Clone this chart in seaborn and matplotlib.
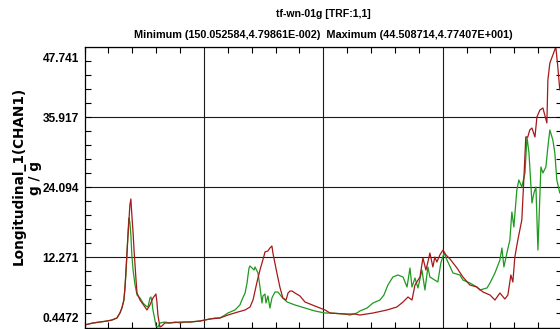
import numpy as np
import pandas as pd
import matplotlib
matplotlib.use("Agg")
import matplotlib.pyplot as plt
import matplotlib.transforms as mtrans
from matplotlib.ticker import MultipleLocator, FixedLocator
import seaborn as sns

sns.set_theme(style="white")
plt.rcParams["font.family"] = ["Liberation Sans Narrow", "Liberation Sans", "DejaVu Sans"]

title = "tf-wn-01g [TRF:1,1]"
subtitle = "Minimum (150.052584,4.79861E-002)  Maximum (44.508714,4.77407E+001)"
ylabel_line1 = "Longitudinal_1(CHAN1)"
ylabel_line2 = "g / g"
ytick_values = [0.4472, 12.271, 24.094, 35.917, 47.741]
ytick_labels = ["0.4472", "12.271", "24.094", "35.917", "47.741"]
x_limits = [0, 240]
x_grid = [60, 120, 180]

freq_green = [0, 4.3, 7.8, 11.3, 13.8, 16.3, 17.8, 18.8, 19.8, 20.3, 20.8, 21.3, 21.8, 22.3, 22.8,
              23.3, 23.8, 24.4, 25.4, 26.4, 27.9, 29.4, 30.9, 31.9, 32.9, 33.4, 33.9, 34.4, 35.4,
              35.9, 36.9, 37.9, 40.4, 42.9, 45.5, 48.0, 50.5, 53.0, 58.0, 60.5, 63.0, 65.6, 68.1,
              70.6, 72.1, 75.6, 78.1, 79.1, 80.7, 81.7, 82.2, 82.7, 83.2, 84.2, 85.2, 85.7, 87.2,
              88.2, 89.2, 89.7, 90.7, 91.2, 92.2, 93.2, 94.2, 95.7, 97.2, 99.2, 101.8, 105.8, 110.8,
              115.8, 120.9, 123.4, 130.9, 133.4, 136.9, 138.4, 142.0, 145.0, 148.5, 150.5, 152.5,
              155.0, 157.5, 160.1, 162.1, 163.6, 164.6, 166.1, 167.6, 169.6, 171.1, 172.6, 173.6,
              177.6, 179.1, 180.7, 182.2, 185.2, 188.7, 190.2, 193.7, 197.2, 198.7, 202.3, 203.8,
              206.3, 208.8, 209.8, 210.8, 212.3, 213.8, 214.8, 215.8, 217.3, 218.3, 219.8, 221.4,
              222.4, 223.4, 224.9, 225.9, 226.9, 227.9, 229.4, 230.4, 231.9, 232.9, 233.9, 235.4,
              236.4, 237.4, 238.9]
resp_green = [0.87, 1.21, 1.37, 1.54, 1.71, 2.05, 2.89, 3.73, 5.08, 6.77, 9.30, 12.67, 16.07, 18.91,
              18.23, 16.07, 12.67, 10.14, 7.61, 5.93, 5.42, 4.58, 4.07, 3.90, 5.42, 5.59, 4.75, 3.40,
              1.71, 0.70, 0.53, 1.21, 1.37, 1.21, 1.37, 1.21, 1.37, 1.37, 1.54, 1.71, 1.88, 2.05,
              2.05, 2.55, 2.89, 3.40, 4.24, 5.08, 6.26, 7.95, 9.30, 10.48, 10.82, 10.48, 10.14,
              10.65, 9.64, 7.27, 4.58, 5.76, 6.09, 4.58, 5.76, 3.73, 5.42, 6.43, 6.43, 5.59, 4.75,
              4.24, 3.73, 3.23, 2.89, 2.89, 2.72, 2.55, 2.89, 3.23, 3.73, 4.58, 5.08, 5.93, 7.61,
              8.96, 9.30, 8.96, 7.27, 10.48, 7.27, 8.79, 7.11, 10.14, 6.77, 10.65, 8.96, 8.12,
              11.32, 13.01, 11.83, 9.64, 9.30, 8.45, 7.95, 7.27, 6.77, 7.11, 7.95, 9.64, 11.83,
              13.85, 10.65, 13.01, 15.20, 19.92, 17.39, 23.63, 25.32, 24.14, 26.50, 32.57, 29.87,
              21.44, 23.12, 24.14, 13.51, 27.51, 26.50, 27.51, 30.88, 33.75, 32.06, 29.87, 25.32,
              23.12]

freq_red = [0, 4.3, 7.8, 11.3, 13.8, 16.3, 17.8, 18.8, 19.8, 20.3, 20.8, 21.3, 21.8, 22.3, 22.8,
            23.3, 23.8, 24.4, 24.9, 25.4, 25.9, 26.4, 27.9, 30.4, 31.4, 32.9, 34.4, 35.9, 36.4,
            36.9, 37.9, 38.9, 40.4, 42.9, 48.0, 53.0, 58.0, 63.0, 68.1, 72.1, 77.1, 80.7, 83.2,
            84.7, 86.7, 88.2, 89.2, 90.2, 90.7, 92.2, 93.2, 94.2, 94.7, 95.7, 96.7, 98.2, 99.7,
            101.3, 102.3, 103.3, 104.3, 105.8, 108.3, 110.8, 115.8, 120.9, 123.4, 130.9, 135.9,
            138.4, 145.0, 152.0, 157.0, 160.1, 162.6, 164.6, 166.1, 168.6, 170.1, 171.6, 172.6,
            173.6, 175.1, 176.1, 177.1, 178.6, 180.2, 181.7, 183.7, 187.2, 190.2, 193.7, 197.2,
            200.3, 203.8, 206.3, 208.8, 211.3, 212.8, 214.3, 215.3, 216.3, 217.8, 219.8, 220.8,
            221.8, 222.8, 223.8, 224.9, 226.4, 227.4, 228.9, 230.4, 232.4, 232.9, 233.9, 235.4,
            236.9, 237.9, 238.9]
resp_red = [0.87, 1.21, 1.37, 1.54, 1.71, 2.05, 2.89, 3.73, 5.08, 7.11, 9.80, 12.67, 15.54, 18.23,
            21.10, 22.11, 19.41, 16.55, 13.51, 10.98, 8.45, 6.26, 5.08, 3.90, 3.40, 4.24, 5.42,
            6.09, 4.75, 2.55, 0.53, 0.70, 1.21, 1.21, 1.37, 1.37, 1.54, 1.88, 2.05, 2.55, 3.06,
            3.40, 3.90, 5.08, 8.12, 10.14, 11.32, 12.50, 13.18, 13.35, 13.85, 14.19, 13.01, 11.32,
            9.64, 7.27, 5.42, 5.08, 6.26, 6.60, 6.60, 6.26, 5.76, 4.75, 4.07, 3.40, 2.89, 2.72,
            2.72, 2.55, 2.89, 3.40, 3.90, 4.75, 5.59, 5.08, 7.61, 8.96, 12.17, 10.14, 11.49,
            13.01, 10.65, 12.33, 11.49, 12.67, 13.51, 12.67, 12.00, 10.48, 8.96, 7.61, 7.27, 6.43,
            5.93, 5.08, 6.26, 5.25, 5.93, 9.30, 8.12, 12.33, 15.20, 18.57, 25.32, 32.57, 32.57,
            33.75, 34.08, 32.57, 35.94, 37.12, 37.46, 34.93, 42.18, 45.04, 46.39, 47.74, 44.37,
            40.49]

green_df = pd.DataFrame({"freq": freq_green, "resp": resp_green})
red_df = pd.DataFrame({"freq": freq_red, "resp": resp_red})

W, H = 560, 329
fig = plt.figure(figsize=(W / 100, H / 100), dpi=100)
fig.patch.set_facecolor("white")
ax = fig.add_axes([84.5 / W, 1.5 / H, 477.5 / W, 280.5 / H])
ax.set_facecolor("white")

sns.lineplot(data=green_df, x="freq", y="resp", ax=ax, color="#1e9a1e",
             lw=0.9, estimator=None, sort=False)
sns.lineplot(data=red_df, x="freq", y="resp", ax=ax, color="#a31a1a",
             lw=0.9, estimator=None, sort=False)

ax.set_xlim(*x_limits)
ax.set_ylim(ytick_values[0], ytick_values[-1])
ax.set_xlabel("")
ax.set_ylabel("")

ax.set_xticks(x_grid)
ax.xaxis.set_minor_locator(MultipleLocator(12))
ax.set_yticks(ytick_values)
ystep = (ytick_values[1] - ytick_values[0]) / 5
ax.yaxis.set_minor_locator(FixedLocator(np.arange(ytick_values[0], ytick_values[-1] + 0.01, ystep)))
ax.set_yticklabels(ytick_labels, fontweight="bold", fontsize=8.6, color="black")
ax.grid(True, which="major", color="#1a1a1a", lw=0.8)

ax.tick_params(axis="both", which="both", direction="in", top=True, right=True,
               bottom=True, left=True, labelbottom=False, color="black")
ax.tick_params(axis="both", which="minor", length=4, width=0.8)
ax.tick_params(axis="both", which="major", length=0, pad=4)
for s in ax.spines.values():
    s.set_visible(True)
    s.set_color("black")
    s.set_linewidth(0.9)

labels = ax.get_yticklabels()
labels[0].set_transform(labels[0].get_transform() +
                        mtrans.ScaledTranslation(0, 0.105, fig.dpi_scale_trans))
labels[-1].set_transform(labels[-1].get_transform() +
                         mtrans.ScaledTranslation(0, -0.10, fig.dpi_scale_trans))

fig.text(323 / W, 1 - 14 / H, title, ha="center", va="center",
         fontsize=7.6, fontweight="bold", color="black")
fig.text(323 / W, 1 - 35 / H, subtitle, ha="center", va="center",
         fontsize=7.8, fontweight="bold", color="black")
fig.text(19 / W, 1 - 176 / H, ylabel_line1, ha="center", va="center", rotation=90,
         fontsize=9.8, fontweight="bold", color="black", family="DejaVu Sans")
fig.text(35 / W, 1 - 178 / H, ylabel_line2, ha="center", va="center", rotation=90,
         fontsize=9.8, fontweight="bold", color="black", family="DejaVu Sans")

fig.savefig("out.png", dpi=100, facecolor="white")
